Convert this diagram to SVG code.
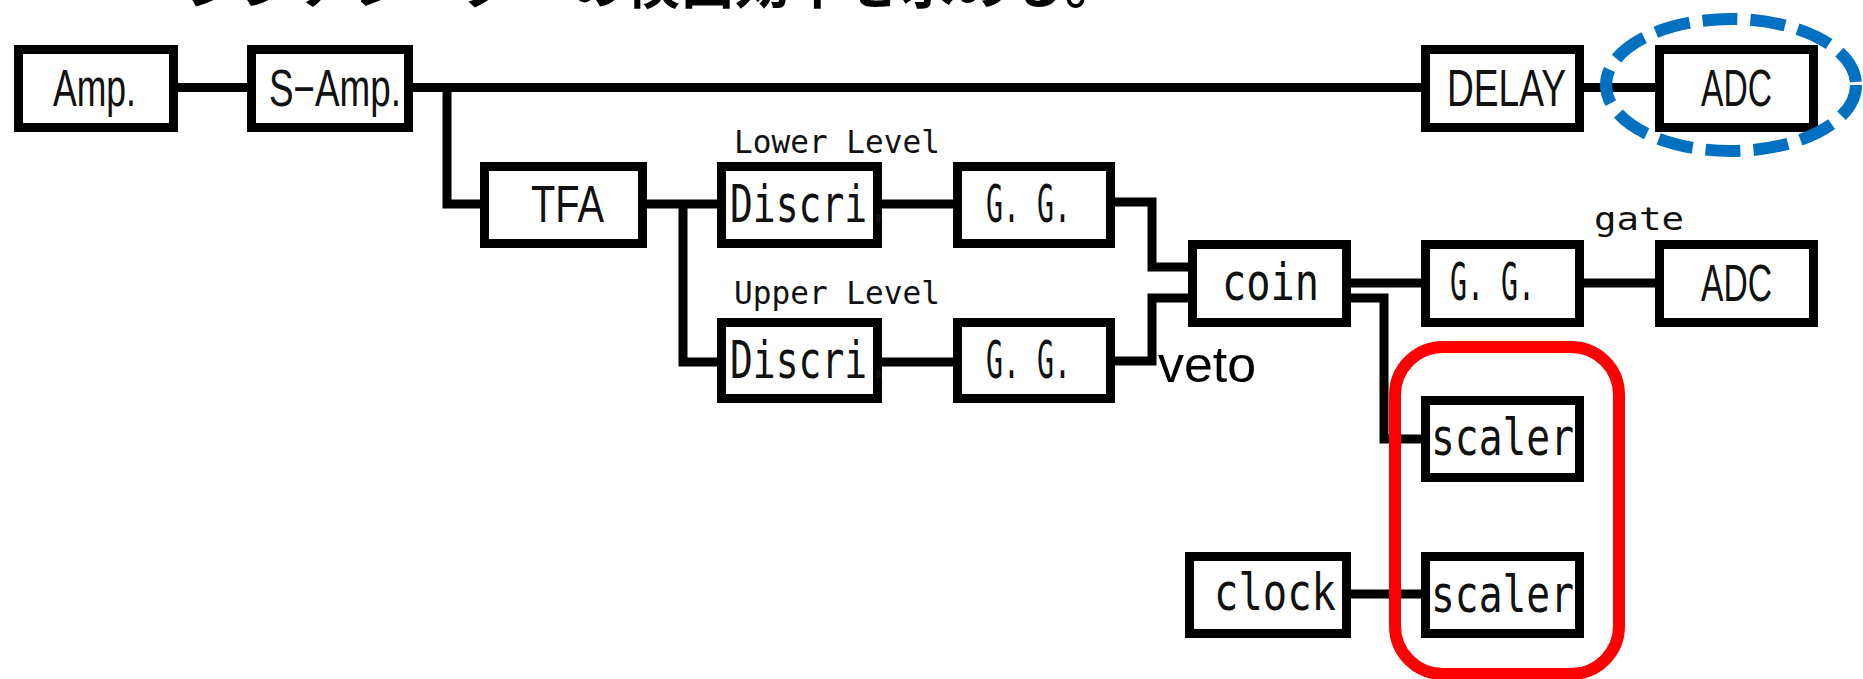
<svg xmlns="http://www.w3.org/2000/svg" width="1863" height="679" viewBox="0 0 1863 679">
  <style>
    .box { fill: #ffffff; stroke: #000000; stroke-width: 9; }
    .wire { fill: none; stroke: #000000; stroke-width: 9; stroke-linejoin: miter; stroke-linecap: butt; }
    .lab { font-family: "Liberation Sans", Arial, sans-serif; font-size: 51px; fill: #111111; }
    .mono { font-family: "DejaVu Sans Mono", "Liberation Mono", monospace; font-size: 52px; fill: #111111; }
    .small { font-family: "DejaVu Sans Mono", "Liberation Mono", monospace; font-size: 32px; fill: #111111; }
    .veto { font-family: "Liberation Sans", Arial, sans-serif; font-size: 50px; fill: #000000; }
    .title { font-family: "Noto Sans CJK JP", "Noto Sans CJK SC", sans-serif; font-size: 55px; font-weight: bold; fill: #000000; }
  </style>
  <rect x="0" y="0" width="1863" height="679" fill="#ffffff"/>

  <text class="title" x="185" y="3" textLength="935" lengthAdjust="spacingAndGlyphs">シンチレーターの検出効率を求める。</text>

  <g id="connectors">
    <line class="wire" x1="178" y1="87.5" x2="247" y2="87.5"/>
    <line class="wire" x1="413" y1="87.5" x2="1421" y2="87.5"/>
    <polyline class="wire" points="447,87.5 447,204 480,204"/>
    <line class="wire" x1="1584" y1="87.5" x2="1655" y2="87.5"/>
    <line class="wire" x1="647" y1="204" x2="717" y2="204"/>
    <polyline class="wire" points="683,204 683,362 717,362"/>
    <line class="wire" x1="882" y1="204" x2="953" y2="204"/>
    <line class="wire" x1="882" y1="362" x2="953" y2="362"/>
    <polyline class="wire" points="1115,202 1152,202 1152,267 1188,267"/>
    <polyline class="wire" points="1115,361 1152,361 1152,298 1188,298"/>
    <line class="wire" x1="1351" y1="283" x2="1421" y2="283"/>
    <line class="wire" x1="1584" y1="283" x2="1655" y2="283"/>
    <polyline class="wire" points="1351,298 1384,298 1384,439 1421,439"/>
    <line class="wire" x1="1351" y1="594" x2="1421" y2="594"/>
  </g>

  <g id="amp">
    <rect class="box" x="18.5" y="49.5" width="155" height="78"/>
    <text class="lab" x="53" y="106" textLength="83" lengthAdjust="spacingAndGlyphs">Amp.</text>
  </g>
  <g id="samp">
    <rect class="box" x="251.5" y="49.5" width="157" height="78"/>
    <text class="lab" x="269" y="106" textLength="132" lengthAdjust="spacingAndGlyphs">S−Amp.</text>
  </g>
  <g id="delay">
    <rect class="box" x="1425.5" y="49.5" width="154" height="78"/>
    <text class="lab" x="1447" y="106" textLength="119" lengthAdjust="spacingAndGlyphs">DELAY</text>
  </g>
  <g id="adc1">
    <rect class="box" x="1659.5" y="49.5" width="154" height="78"/>
    <text class="lab" x="1701" y="106" textLength="71" lengthAdjust="spacingAndGlyphs">ADC</text>
  </g>
  <g id="tfa">
    <rect class="box" x="484.5" y="166.5" width="158" height="77"/>
    <text class="lab" x="531" y="222" textLength="73" lengthAdjust="spacingAndGlyphs">TFA</text>
  </g>
  <g id="discri-lower">
    <rect class="box" x="721.5" y="166.5" width="156" height="77"/>
    <text class="mono" x="730" y="222" textLength="160" lengthAdjust="spacingAndGlyphs">Discri.</text>
    <text class="small" x="734" y="153" textLength="206" lengthAdjust="spacingAndGlyphs">Lower Level</text>
  </g>
  <g id="gg-lower">
    <rect class="box" x="957.5" y="166.5" width="153" height="77"/>
    <text class="mono" x="986" y="222" textLength="85" lengthAdjust="spacingAndGlyphs">G. G.</text>
  </g>
  <g id="discri-upper">
    <rect class="box" x="721.5" y="322.5" width="156" height="76"/>
    <text class="mono" x="730" y="378" textLength="160" lengthAdjust="spacingAndGlyphs">Discri.</text>
    <text class="small" x="734" y="304" textLength="206" lengthAdjust="spacingAndGlyphs">Upper Level</text>
  </g>
  <g id="gg-upper">
    <rect class="box" x="957.5" y="322.5" width="153" height="76"/>
    <text class="mono" x="986" y="378" textLength="85" lengthAdjust="spacingAndGlyphs">G. G.</text>
  </g>
  <g id="coin">
    <rect class="box" x="1192.5" y="244.5" width="154" height="78"/>
    <text class="mono" x="1222" y="300" textLength="97" lengthAdjust="spacingAndGlyphs">coin</text>
    <text class="veto" x="1158" y="382" textLength="98" lengthAdjust="spacingAndGlyphs">veto</text>
  </g>
  <g id="gg-gate">
    <rect class="box" x="1425.5" y="244.5" width="154" height="78"/>
    <text class="mono" x="1450" y="300" textLength="85" lengthAdjust="spacingAndGlyphs">G. G.</text>
    <text class="small" x="1594" y="230" font-size="36" textLength="90" lengthAdjust="spacingAndGlyphs">gate</text>
  </g>
  <g id="adc2">
    <rect class="box" x="1659.5" y="244.5" width="154" height="78"/>
    <text class="lab" x="1701" y="301" textLength="71" lengthAdjust="spacingAndGlyphs">ADC</text>
  </g>
  <g id="scaler1">
    <rect class="box" x="1425.5" y="400.5" width="154" height="77"/>
    <text class="mono" x="1431" y="455" textLength="143" lengthAdjust="spacingAndGlyphs">scaler</text>
  </g>
  <g id="scaler2">
    <rect class="box" x="1425.5" y="556.5" width="154" height="77"/>
    <text class="mono" x="1431" y="612" textLength="143" lengthAdjust="spacingAndGlyphs">scaler</text>
  </g>
  <g id="clock">
    <rect class="box" x="1189.5" y="556.5" width="157" height="77"/>
    <text class="mono" x="1214" y="610" textLength="122" lengthAdjust="spacingAndGlyphs">clock</text>
  </g>

  <g id="highlights">
    <ellipse cx="1731" cy="85" rx="125" ry="66" fill="none" stroke="#0070C0" stroke-width="12" stroke-dasharray="35 13"/>
    <rect x="1395" y="347" width="224" height="327" rx="48" ry="48" fill="none" stroke="#FF0000" stroke-width="12"/>
  </g>
</svg>
